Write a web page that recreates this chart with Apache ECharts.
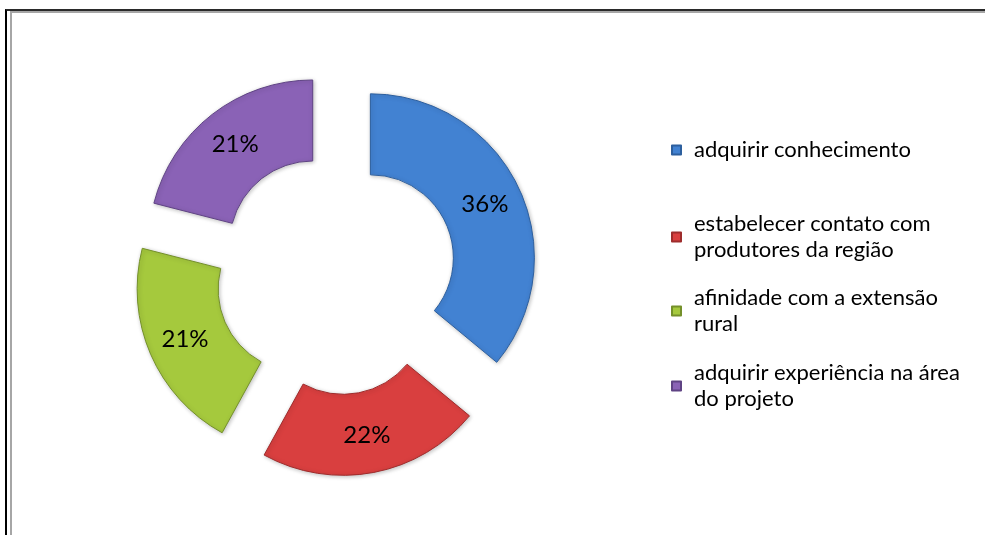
<!DOCTYPE html>
<html>
<head>
<meta charset="utf-8">
<script src="https://cdn.jsdelivr.net/npm/echarts@6/dist/echarts.min.js"></script>
<style>
  html, body { margin: 0; padding: 0; background: #ffffff; }
  #frame {
    position: absolute; left: 5px; top: 9px; width: 980px; height: 526px;
    border-left: 2px solid #000000; border-top: 2px solid #2a2a2a;
    box-sizing: border-box;
  }
  #inner {
    position: absolute; left: 10px; top: 11px; width: 975px; height: 524px;
    border-left: 2px solid #a6a6a6; border-top: 2px solid #a6a6a6;
    box-sizing: border-box;
  }
  #chart { position: absolute; left: 0; top: 0; width: 985px; height: 535px; }
</style>
</head>
<body>
<div id="frame"></div>
<div id="inner"></div>
<div id="chart"></div>
<script>
// Motivos de participação no projeto (percentual de respostas)
const categories = [
  'adquirir conhecimento',
  'estabelecer contato com produtores da região',
  'afinidade com a extensão rural',
  'adquirir experiência na área do projeto'
];
const legendLines = [
  'adquirir conhecimento',
  'estabelecer contato com\nprodutores da região',
  'afinidade com a extensão\nrural',
  'adquirir experiência na área\ndo projeto'
];
const values = [36, 22, 21, 21];
const colors = ['#4282d2', '#d93f3f', '#a5c93d', '#8a62b6'];
const borders = ['#2d5f9e', '#9e2c2c', '#74902a', '#5f4384'];

const FONT = 'Lato';

const chart = echarts.init(document.getElementById('chart'), null, { renderer: 'canvas' });

const pieData = categories.map((name, i) => ({
  name: name,
  value: values[i],
  selected: true,
  itemStyle: {
    color: colors[i],
    borderColor: borders[i],
    borderWidth: 1,
    shadowColor: 'rgba(0,0,0,0.25)',
    shadowBlur: 4,
    shadowOffsetX: 1,
    shadowOffsetY: 1
  }
}));

// one legend block per category, each in its own row slot
const legendTops = [137, 198, 272, 347];
const legends = categories.map((name, i) => {
  const twoLines = legendLines[i].indexOf('\n') >= 0;
  return {
    orient: 'vertical',
    left: 671,
    top: legendTops[i],
    padding: 0,
    icon: 'rect',
    itemWidth: 9,
    itemHeight: 9,
    selectedMode: false,
    data: [name],
    formatter: () => legendLines[i],
    textStyle: {
      fontFamily: FONT,
      fontSize: 22,
      lineHeight: 26,
      color: '#000000',
      padding: twoLines ? [26, 0, 0, 8] : [0, 0, 0, 8]
    }
  };
});

chart.setOption({
  animation: false,
  legend: legends,
  series: [{
    type: 'pie',
    center: [336, 274],
    radius: [83, 164],
    startAngle: 90,
    clockwise: true,
    selectedMode: 'multiple',
    selectedOffset: 38,
    avoidLabelOverlap: false,
    label: {
      show: true,
      position: 'inside',
      formatter: '{c}%',
      fontFamily: FONT,
      fontSize: 24,
      color: '#000000'
    },
    labelLine: { show: false },
    emphasis: { disabled: true },
    select: { disabled: false },
    data: pieData
  }]
});
</script>
</body>
</html>
